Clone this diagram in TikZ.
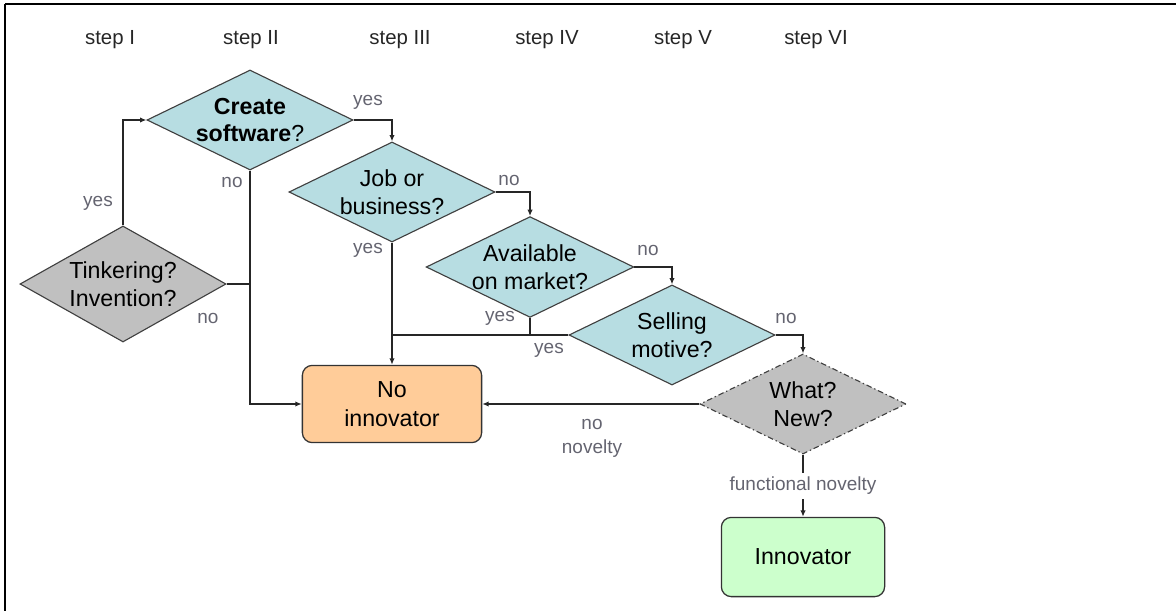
\documentclass[tikz,border=0pt]{standalone}
\usepackage{fontspec}
\setmainfont{Liberation Sans}
\usetikzlibrary{positioning,arrows.meta,shapes.geometric,calc}

\definecolor{qblue}{RGB}{183,221,226}
\definecolor{qgray}{RGB}{192,192,192}
\definecolor{qorange}{RGB}{255,204,153}
\definecolor{qgreen}{RGB}{204,255,204}
\definecolor{lblgray}{RGB}{100,100,112}

\begin{document}
\begin{tikzpicture}[x=0.025cm, y=-0.025cm,
    question/.style={diamond, aspect=2.06, draw=black!75, line width=0.8pt, fill=qblue, minimum width=5.15cm, minimum height=2.5cm, inner sep=0pt, align=center, font=\fontsize{16.5}{19.5}\selectfont},
    outcome/.style={rectangle, rounded corners=7pt, draw=black!80, line width=0.9pt, align=center, font=\fontsize{16.5}{21}\selectfont},
    steplbl/.style={font=\fontsize{14.5}{16}\selectfont, text=black!85},
    lbl/.style={font=\fontsize{13.5}{17}\selectfont, text=lblgray, align=center},
    conn/.style={draw=black!85, line width=0.9pt},
    arr/.style={conn, -{Latex[length=4.5pt,width=3.8pt]}},
    thickarr/.style={arr, line width=1.8pt}
]
\useasboundingbox (0,0) rectangle (1176,611);

% frame
\draw[line width=1pt] (5,4) -- (942,4);
\draw[line width=1.6pt] (942,4) -- (1176,4);
\draw[line width=1.6pt] (5,4) -- (5,611);

% steps
\node[steplbl] (s1) at (110,40) {step I};
\node[steplbl] (s2) at (251,40) {step II};
\node[steplbl] (s3) at (400,40) {step III};
\node[steplbl] (s4) at (547,40) {step IV};
\node[steplbl] (s5) at (683,40) {step V};
\node[steplbl] (s6) at (816,40) {step VI};

% decisions
\node[question, fill=qgray, aspect=1.78, minimum height=2.9cm] (tinker) at (123,284) {Tinkering?\\Invention?};
\node[question] (create) at (250,120) {{\bfseries Create}\\{\bfseries software}?};
\node[question] (job) at (392,192) {Job or\\business?};
\node[question] (avail) at (530,267) {Available\\on market?};
\node[question] (sell) at (672,335) {Selling\\motive?};
\node[question, fill=qgray, dash pattern=on 4pt off 2pt on 1pt off 2pt] (what) at (803,404) {What?\\New?};

% outcomes
\node[outcome, fill=qorange, minimum width=4.48cm, minimum height=1.93cm] (noinno) at (392,404) {No\\innovator};
\node[outcome, fill=qgreen, minimum width=4.08cm, minimum height=1.98cm] (innov) at (803,557) {Innovator};

% connectors
\draw[arr] (tinker.north) |- (create.west);
\draw[arr] (create.east) -| (job.north);
\draw[arr] (job.east) -| (avail.north);
\draw[arr] (avail.east) -| (sell.north);
\draw[arr] (sell.east) -| (what.north);

\coordinate (jleft) at (create.south |- tinker.east);
\draw[conn] (create.south) -- (jleft);
\draw[conn] (tinker.east) -- (jleft);
\draw[thickarr] (jleft) |- (noinno.west);

\coordinate (jmid) at (job.south |- sell.west);
\draw[conn] (job.south) -- (jmid);
\draw[conn] (avail.south) -- (avail.south |- sell.west);
\draw[conn, line width=1.3pt] (sell.west) -- (jmid);
\draw[thickarr] (jmid) -- (noinno.north);

\draw[arr] (what.west) -- (noinno.east);
\draw[arr] (what.south) -- node[lbl, fill=white, inner sep=3pt] (funclbl) {functional novelty} (innov.north);

% labels
\node[lbl] (y1) at (98,203) {yes};
\node[lbl] (n1) at (232,182) {no};
\node[lbl] (n2) at (208,318) {no};
\node[lbl] (y2) at (368,102) {yes};
\node[lbl] (n3) at (509,180) {no};
\node[lbl] (y3) at (368,250) {yes};
\node[lbl] (y4) at (500,318) {yes};
\node[lbl] (n4) at (648,250) {no};
\node[lbl] (y5) at (549,350) {yes};
\node[lbl] (n5) at (786,318) {no};
\node[lbl] (nonov) at (592,438) {no\\novelty};

\end{tikzpicture}
\end{document}
